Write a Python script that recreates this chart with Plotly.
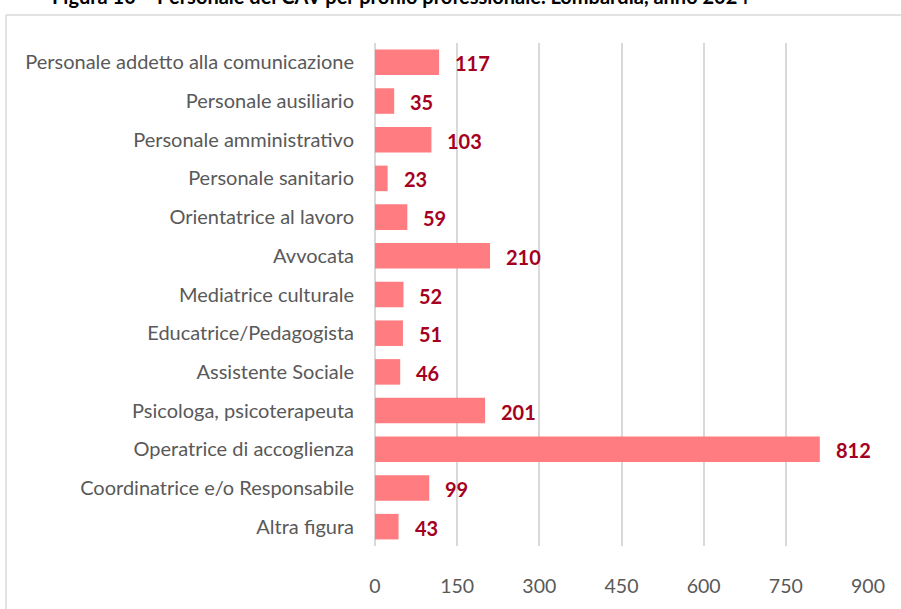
import plotly.graph_objects as go

categories = [
    "Personale addetto alla comunicazione",
    "Personale ausiliario",
    "Personale amministrativo",
    "Personale sanitario",
    "Orientatrice al lavoro",
    "Avvocata",
    "Mediatrice culturale",
    "Educatrice/Pedagogista",
    "Assistente Sociale",
    "Psicologa, psicoterapeuta",
    "Operatrice di accoglienza",
    "Coordinatrice e/o Responsabile",
    "Altra figura",
]
values = [117, 35, 103, 23, 59, 210, 52, 51, 46, 201, 812, 99, 43]
tick_vals = [0, 150, 300, 450, 600, 750, 900]
title_text = "Figura 10 – Personale dei CAV per profilo professionale. Lombardia, anno 2024"

FONT = "Lato, Calibri, Carlito, sans-serif"

fig = go.Figure()
fig.add_trace(go.Bar(
    x=values, y=categories, orientation="h",
    marker=dict(color="#FF7C80", line=dict(width=0)),
    width=0.66, hoverinfo="x+y",
))

for c, v in zip(categories, values):
    fig.add_annotation(
        x=v, y=c, text=f"<b>{v}</b>", showarrow=False,
        xanchor="left", xshift=14, yshift=-1,
        font=dict(family=FONT, size=20, color="#A50021"),
    )

W, H = 901, 609
L, R, T, B = 375, 33, 43, 53
pw, ph = W - L - R, H - T - B

def px2x(px):
    return (px - L) / pw

def py2y(py):
    return (H - B - py) / ph

frame = dict(color="#D9D9D9", width=1.5)
fig.add_shape(type="line", xref="paper", yref="paper",
              x0=px2x(6), x1=px2x(950), y0=py2y(14.5), y1=py2y(14.5),
              line=frame, layer="below")
fig.add_shape(type="line", xref="paper", yref="paper",
              x0=px2x(6), x1=px2x(6), y0=py2y(14.5), y1=py2y(660),
              line=frame, layer="below")

fig.add_annotation(
    xref="paper", yref="paper", x=px2x(50), y=py2y(9),
    xanchor="left", yanchor="bottom", text=f"<b>{title_text}</b>",
    showarrow=False, font=dict(family=FONT, size=20, color="#000000"),
)

fig.update_layout(
    width=W, height=H,
    margin=dict(l=L, r=R, t=T, b=B, pad=0),
    plot_bgcolor="white", paper_bgcolor="white",
    showlegend=False,
    bargap=0.34,
    xaxis=dict(
        range=[0, 900], tickvals=tick_vals, ticktext=[str(t) for t in tick_vals],
        showgrid=True, gridcolor="#D9D9D9", gridwidth=1.5,
        zeroline=True, zerolinecolor="#D9D9D9", zerolinewidth=1.5,
        showline=False, ticks="outside", ticklen=23, tickcolor="rgba(0,0,0,0)",
        tickfont=dict(family=FONT, size=19.5, color="#595959"),
        fixedrange=True,
    ),
    yaxis=dict(
        categoryorder="array", categoryarray=categories[::-1],
        showgrid=False, zeroline=False, showline=False,
        ticks="outside", ticklen=16, tickcolor="rgba(0,0,0,0)",
        tickfont=dict(family=FONT, size=20, color="#595959"),
        fixedrange=True,
    ),
)

fig.write_html("out.html", config={"displayModeBar": False},
               post_script="document.body.style.margin='0';document.body.style.overflow='hidden';")
